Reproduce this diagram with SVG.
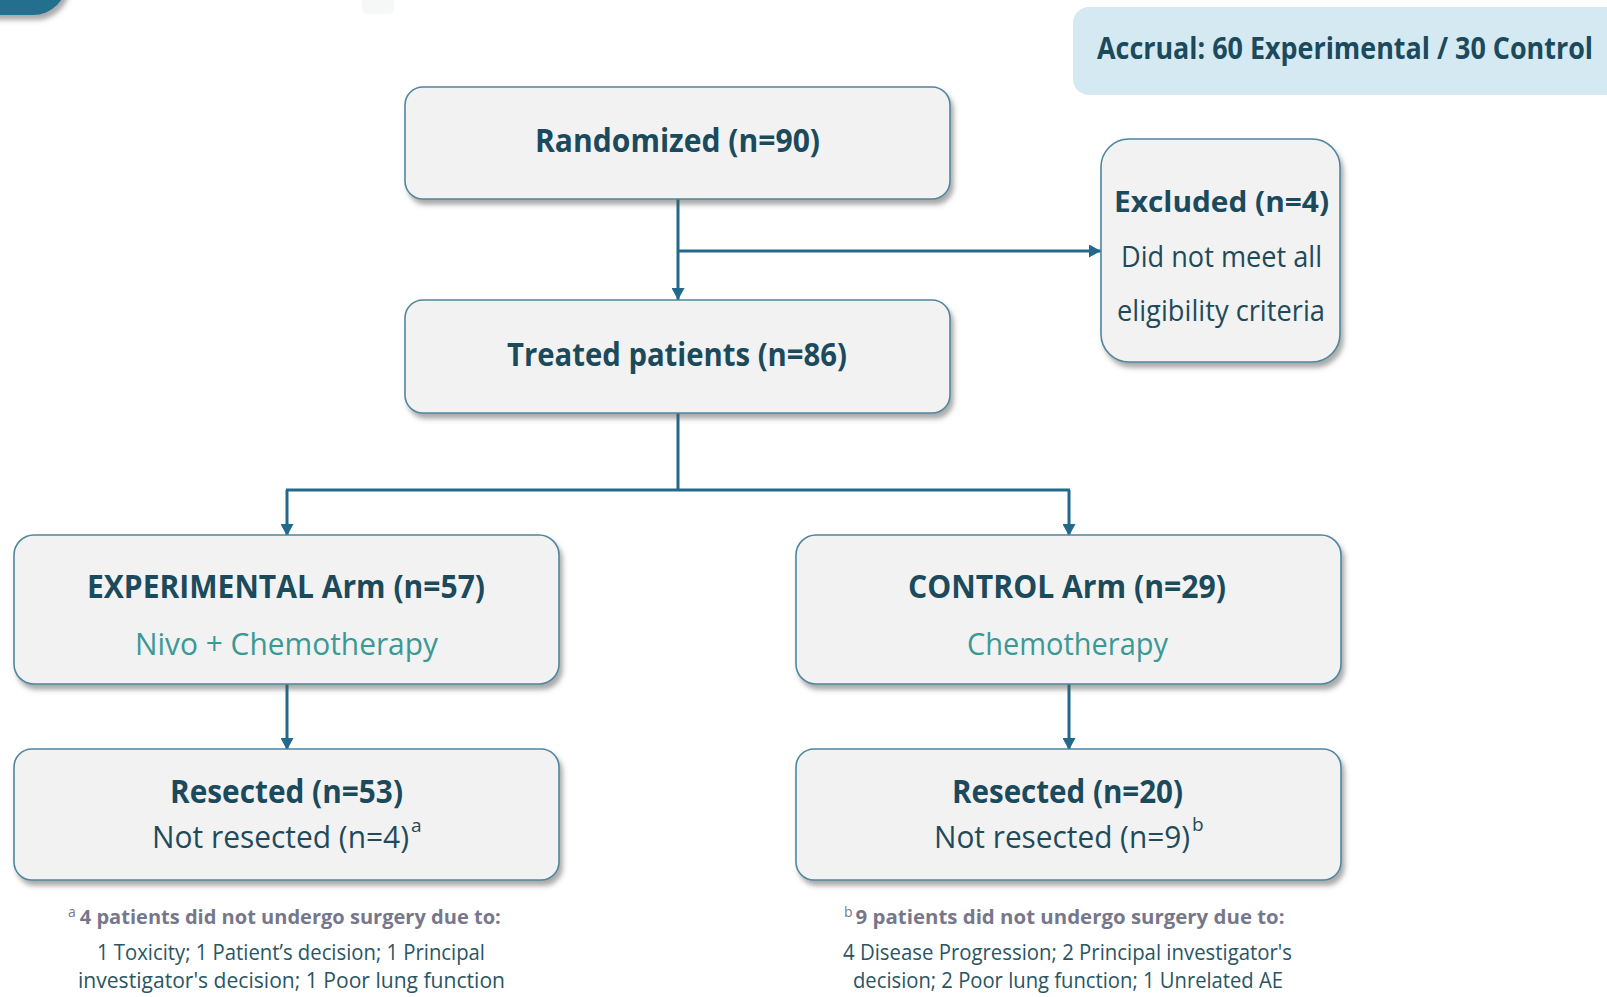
<svg xmlns="http://www.w3.org/2000/svg" width="1607" height="997" viewBox="0 0 1607 997">
  <style>
    text { font-family: "Open Sans", "Noto Sans", "Liberation Sans", sans-serif; }
    .box { fill: #f2f2f2; stroke: #4f879e; stroke-width: 1.6; filter: url(#shadow); }
    .title { font-weight: 700; fill: #1b4a5c; }
    .reg { font-weight: 400; fill: #1f4a5a; }
    .teal { font-weight: 400; fill: #3a9994; }
    .fnh { font-weight: 700; fill: #77778c; font-size: 20px; }
    .sup { font-weight: 400; font-size: 14px; }
    .fnb { font-weight: 400; fill: #2a5563; font-size: 22px; }
    .conn { fill: none; stroke: #23698b; stroke-width: 3; }
  </style>
  <defs>
    <filter id="shadow" x="-10%" y="-10%" width="125%" height="130%">
      <feDropShadow dx="3" dy="5" stdDeviation="2.5" flood-color="#555" flood-opacity="0.5"/>
    </filter>
    <marker id="arrow" markerUnits="userSpaceOnUse" markerWidth="13" markerHeight="13" refX="12" refY="6.5" orient="auto">
      <path d="M0,0 L12,6.5 L0,13 z" fill="#23698b"/>
    </marker>
  </defs>
  <rect width="1607" height="997" fill="#ffffff"/>

  <!-- top-left corner shape -->
  <g id="corner">
    <rect x="-80" y="-80" width="147" height="95" rx="34" fill="#236f8e" filter="url(#shadow)"/>
  </g>
  <rect x="362" y="-10" width="32" height="24" rx="6" fill="#f6f7f7"/>

  <!-- accrual -->
  <g id="accrual">
    <rect x="1073" y="7" width="560" height="88" rx="16" fill="#d4e9f1"/>
    <text class="title" x="1097" y="59" font-size="30" textLength="496" lengthAdjust="spacingAndGlyphs">Accrual: 60 Experimental / 30 Control</text>
  </g>

  <!-- connectors -->
  <g id="connectors">
    <path class="conn" d="M678 199 V300" marker-end="url(#arrow)"/>
    <path class="conn" d="M678 251 H1101" marker-end="url(#arrow)"/>
    <path class="conn" d="M678 413 V490"/>
    <path class="conn" d="M286 490 H1070"/>
    <path class="conn" d="M287 490 V536" marker-end="url(#arrow)"/>
    <path class="conn" d="M1069 490 V536" marker-end="url(#arrow)"/>
    <path class="conn" d="M287 684 V750" marker-end="url(#arrow)"/>
    <path class="conn" d="M1069 684 V750" marker-end="url(#arrow)"/>
  </g>

  <g id="randomized">
    <rect class="box" x="405" y="87" width="545" height="112" rx="18"/>
    <text class="title" x="535" y="152" font-size="33" textLength="285" lengthAdjust="spacingAndGlyphs">Randomized (n=90)</text>
  </g>

  <g id="treated">
    <rect class="box" x="405" y="300" width="545" height="113" rx="18"/>
    <text class="title" x="507" y="366" font-size="33" textLength="340" lengthAdjust="spacingAndGlyphs">Treated patients (n=86)</text>
  </g>

  <g id="excluded">
    <rect class="box" x="1101" y="139" width="239" height="223" rx="28"/>
    <text class="title" x="1114" y="212" font-size="29" textLength="215" lengthAdjust="spacingAndGlyphs">Excluded (n=4)</text>
    <text class="reg" x="1121" y="267" font-size="29" textLength="201" lengthAdjust="spacingAndGlyphs">Did not meet all</text>
    <text class="reg" x="1117" y="321" font-size="29" textLength="208" lengthAdjust="spacingAndGlyphs">eligibility criteria</text>
  </g>

  <g id="experimental">
    <rect class="box" x="14" y="535" width="545" height="149" rx="20"/>
    <text class="title" x="87" y="598" font-size="33" textLength="398" lengthAdjust="spacingAndGlyphs">EXPERIMENTAL Arm (n=57)</text>
    <text class="teal" x="135" y="655" font-size="31" textLength="303" lengthAdjust="spacingAndGlyphs">Nivo + Chemotherapy</text>
  </g>

  <g id="control">
    <rect class="box" x="796" y="535" width="545" height="149" rx="20"/>
    <text class="title" x="908" y="598" font-size="33" textLength="318" lengthAdjust="spacingAndGlyphs">CONTROL Arm (n=29)</text>
    <text class="teal" x="967" y="655" font-size="31" textLength="201" lengthAdjust="spacingAndGlyphs">Chemotherapy</text>
  </g>

  <g id="resected-exp">
    <rect class="box" x="14" y="749" width="545" height="131" rx="18"/>
    <text class="title" x="170" y="803" font-size="33" textLength="233" lengthAdjust="spacingAndGlyphs">Resected (n=53)</text>
    <text class="reg" x="152" y="848" font-size="31"><tspan textLength="257" lengthAdjust="spacingAndGlyphs">Not resected (n=4)</tspan><tspan font-size="19" dx="2" dy="-16">a</tspan></text>
  </g>

  <g id="resected-ctrl">
    <rect class="box" x="796" y="749" width="545" height="131" rx="18"/>
    <text class="title" x="952" y="803" font-size="33" textLength="231" lengthAdjust="spacingAndGlyphs">Resected (n=20)</text>
    <text class="reg" x="934" y="848" font-size="31"><tspan textLength="256" lengthAdjust="spacingAndGlyphs">Not resected (n=9)</tspan><tspan font-size="19" dx="2" dy="-17">b</tspan></text>
  </g>

  <g id="footnote-a">
    <text class="fnh" x="68" y="924"><tspan class="sup" dy="-7">a</tspan><tspan dx="4" dy="7" textLength="421" lengthAdjust="spacingAndGlyphs">4 patients did not undergo surgery due to:</tspan></text>
    <text class="fnb" x="97" y="960" textLength="388" lengthAdjust="spacingAndGlyphs">1 Toxicity; 1 Patient’s decision; 1 Principal</text>
    <text class="fnb" x="78" y="988" textLength="427" lengthAdjust="spacingAndGlyphs">investigator's decision; 1 Poor lung function</text>
  </g>

  <g id="footnote-b">
    <text class="fnh" x="844" y="924"><tspan class="sup" dy="-7">b</tspan><tspan dx="3" dy="7" textLength="429" lengthAdjust="spacingAndGlyphs">9 patients did not undergo surgery due to:</tspan></text>
    <text class="fnb" x="843" y="960" textLength="449" lengthAdjust="spacingAndGlyphs">4 Disease Progression; 2 Principal investigator's</text>
    <text class="fnb" x="853" y="988" textLength="430" lengthAdjust="spacingAndGlyphs">decision; 2 Poor lung function; 1 Unrelated AE</text>
  </g>
</svg>
